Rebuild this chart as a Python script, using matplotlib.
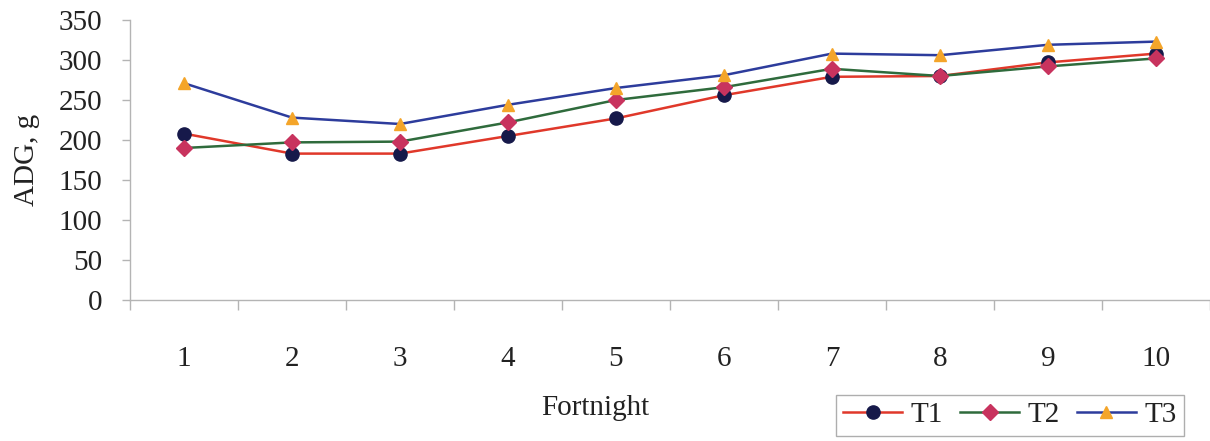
import numpy as np
import matplotlib.pyplot as plt
from matplotlib.ticker import MultipleLocator, FixedLocator

# average daily gain per fortnight for the three treatments
fortnight = np.arange(1, 11)
t1 = [208, 183, 183, 205, 227, 256, 279, 280, 297, 308]
t2 = [190, 197, 198, 222, 250, 266, 289, 280, 292, 302]
t3 = [271, 228, 220, 244, 265, 281, 308, 306, 319, 323]

plt.rcParams['font.family'] = ['Liberation Serif', 'DejaVu Serif']

fig = plt.figure(figsize=(12.1, 4.41), dpi=100)
ax = fig.add_axes([130/1210, 1-300/441, 1080/1210, 280/441])

ax.plot(fortnight, t1, color='#e0382a', lw=1.8, marker='o', ms=9.5,
        mfc='#16194a', mec='#16194a', label='T1')
ax.plot(fortnight, t2, color='#2f6b3c', lw=1.8, marker='D', ms=8,
        mfc='#c8335e', mec='#c8335e', label='T2')
ax.plot(fortnight, t3, color='#2d3c9c', lw=1.8, marker='^', ms=8.5,
        mfc='#f4a52a', mec='#f4a52a', label='T3')

ax.set_xlim(0.5, 10.5)
ax.set_ylim(0, 350)
ax.yaxis.set_major_locator(MultipleLocator(50))
ax.xaxis.set_major_locator(FixedLocator(fortnight))
ax.xaxis.set_minor_locator(FixedLocator(np.arange(0.5, 11, 1)))

for s in ['top', 'right']:
    ax.spines[s].set_visible(False)
for s in ['left', 'bottom']:
    ax.spines[s].set_color('#b4b4b4')
    ax.spines[s].set_linewidth(1.0)

ax.tick_params(axis='y', length=6, width=1, color='#b4b4b4', pad=14,
               labelsize=21, labelcolor='#222222')
ax.tick_params(axis='x', which='major', length=0, pad=33,
               labelsize=21, labelcolor='#222222')
ax.tick_params(axis='x', which='minor', length=7, width=1, color='#b4b4b4')

fig.text(27/1210, 1-160/441, 'ADG, g', rotation=90, ha='center', va='center',
         fontsize=21, color='#222222')
fig.text(595/1210, 1-408/441, 'Fortnight', ha='center', va='center',
         fontsize=21, color='#222222')

leg = fig.legend(loc='center', bbox_to_anchor=(1010/1210, 1-415/441), ncol=3,
                 fontsize=21, frameon=True, fancybox=False, handlelength=2.0,
                 handletextpad=0.3, columnspacing=0.6, borderpad=0.25,
                 borderaxespad=0)
leg.get_frame().set_edgecolor('#9a9a9a')
leg.get_frame().set_linewidth(1.0)
for txt in leg.get_texts():
    txt.set_color('#222222')

fig.savefig('out.png', dpi=100)
